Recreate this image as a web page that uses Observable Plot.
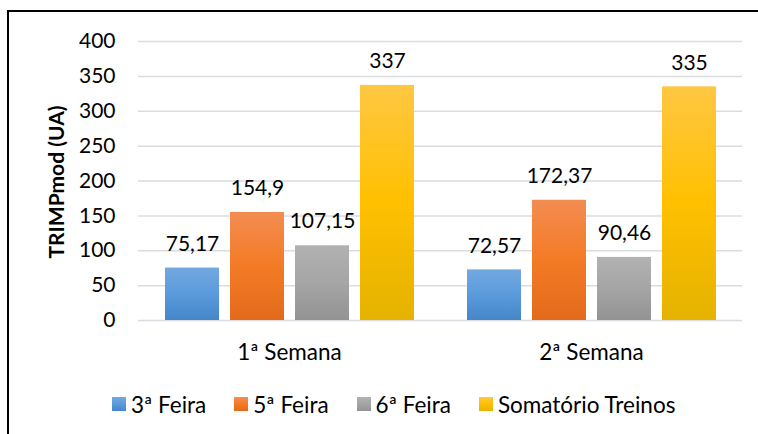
<!DOCTYPE html>
<html>
<head>
<meta charset="utf-8">
<script src="https://cdn.jsdelivr.net/npm/d3@7"></script>
<script src="https://cdn.jsdelivr.net/npm/@observablehq/plot@0.6"></script>
<style>
  html, body { margin: 0; padding: 0; background: #fff; overflow: hidden; width: 758px; height: 434px; }
  body { position: relative; font-family: Lato, "Open Sans", sans-serif; }
  #frame { position: absolute; left: 7px; top: 10px; width: 900px; height: 600px; border: 2px solid #000; box-sizing: border-box; }
  #chart { position: absolute; left: 0; top: 0; }
  #legend { position: absolute; left: 112px; top: 392px; display: flex; gap: 28px; font-size: 22.5px; color: #000; white-space: nowrap; }
  .item { display: flex; align-items: center; gap: 5px; height: 24px; }
  .sw { width: 14px; height: 14px; }
</style>
</head>
<body>
<div id="frame"></div>
<div id="chart"></div>
<div id="legend"></div>
<script>
const weeks = ["1ª Semana", "2ª Semana"];
const series = ["3ª Feira", "5ª Feira", "6ª Feira", "Somatório Treinos"];
const values = {
  "3ª Feira": [75.17, 72.57],
  "5ª Feira": [154.9, 172.37],
  "6ª Feira": [107.15, 90.46],
  "Somatório Treinos": [337, 335]
};
const valueLabels = {
  "3ª Feira": ["75,17", "72,57"],
  "5ª Feira": ["154,9", "172,37"],
  "6ª Feira": ["107,15", "90,46"],
  "Somatório Treinos": ["337", "335"]
};
const yTicks = [0, 50, 100, 150, 200, 250, 300, 350, 400];
const yTitle = "TRIMPmod (UA)";
const gradients = [
  ["#72a8df", "#5b9bdc", "#4486c9"],
  ["#f38c52", "#f47b25", "#e36a1a"],
  ["#b2b2b2", "#a5a5a5", "#939393"],
  ["#ffc743", "#ffc000", "#e5b300"]
];

const rows = [];
series.forEach(s => weeks.forEach((w, i) => rows.push({week: w, series: s, value: values[s][i], label: valueLabels[s][i]})));

const font = "Lato, 'Open Sans', sans-serif";
const marks = [
  Plot.gridY(yTicks, {stroke: "#d9dce1", strokeOpacity: 1, strokeWidth: 1.5}),
  ...series.map((s, i) => Plot.barY(rows.filter(d => d.series === s), {
    fx: "week", x: "series", y: "value", fill: `url(#grad${i})`
  })),
  Plot.text(rows, {fx: "week", x: "series", y: "value", text: "label", dy: -24, fontSize: 21, fill: "#000"}),
  Plot.axisY({ticks: yTicks, tickSize: 0, tickPadding: 23, fontSize: 21, label: null, tickFormat: d => String(d)}),
  Plot.axisFx({anchor: "bottom", tickSize: 0, tickPadding: 24, fontSize: 22.5, label: null})
];

const chart = Plot.plot({
  width: 758,
  height: 380,
  marginLeft: 138,
  marginRight: 16,
  marginTop: 41,
  marginBottom: 60,
  style: {fontFamily: font, color: "#000", background: "transparent", overflow: "visible"},
  fx: {domain: weeks, padding: 0},
  x: {domain: series, paddingInner: 0.17, paddingOuter: 0.3975, axis: null},
  y: {domain: [0, 400]},
  marks
});

const svg = d3.select(chart.tagName.toLowerCase() === "svg" ? chart : chart.querySelector("svg"));
const defs = svg.insert("defs", ":first-child");
gradients.forEach((stops, i) => {
  const g = defs.append("linearGradient").attr("id", `grad${i}`).attr("x1", 0).attr("y1", 0).attr("x2", 0).attr("y2", 1);
  g.append("stop").attr("offset", "0%").attr("stop-color", stops[0]);
  g.append("stop").attr("offset", "50%").attr("stop-color", stops[1]);
  g.append("stop").attr("offset", "100%").attr("stop-color", stops[2]);
});
svg.append("text")
  .attr("transform", "translate(55,182) rotate(-90)")
  .attr("text-anchor", "middle")
  .attr("dominant-baseline", "central")
  .attr("font-weight", "bold")
  .attr("font-size", 21)
  .attr("fill", "#000")
  .text(yTitle);
document.getElementById("chart").appendChild(chart);

const legend = d3.select("#legend");
series.forEach((s, i) => {
  const it = legend.append("div").attr("class", "item");
  it.append("div").attr("class", "sw")
    .style("background", `linear-gradient(to bottom, ${gradients[i][0]}, ${gradients[i][1]} 50%, ${gradients[i][2]})`);
  it.append("span").text(s);
});
</script>
</body>
</html>
